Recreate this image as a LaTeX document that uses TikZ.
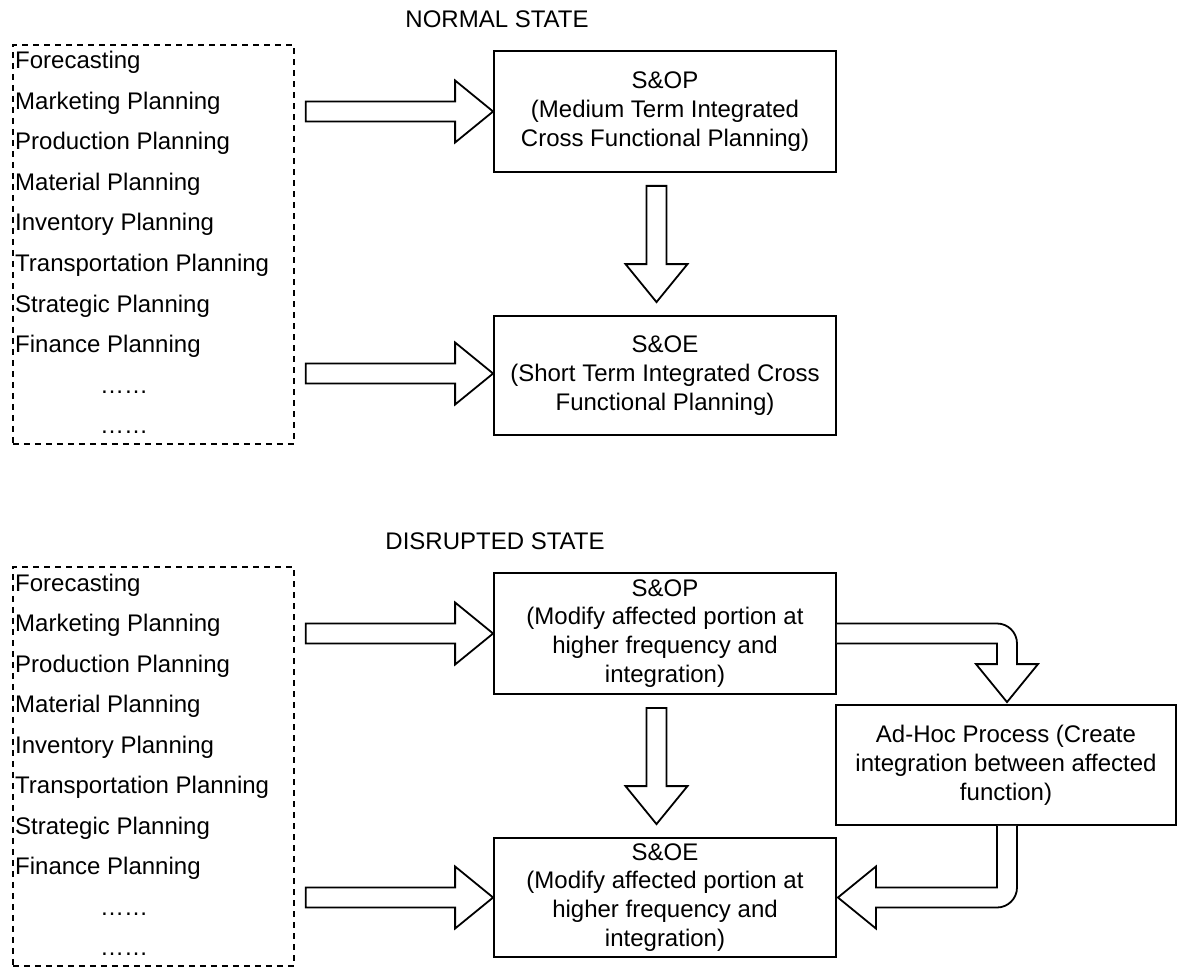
\documentclass[tikz,border=0pt]{standalone}
\usepackage{fontspec}
\setmainfont{Liberation Sans}
\usetikzlibrary{calc}
\tikzset{
  box/.style={draw=black, line width=1.8pt, fill=white, minimum width=342pt, minimum height=121pt, inner sep=0pt, align=center, font=\fontsize{24}{28.8}\selectfont},
  listbox/.style={draw=black, line width=1.8pt, dash pattern=on 6pt off 5pt, minimum width=281pt, minimum height=399pt, inner sep=0pt, anchor=north west},
  item/.style={anchor=base west, inner sep=0pt, font=\fontsize{24}{28.8}\selectfont},
  ttl/.style={inner sep=0pt, font=\fontsize{24}{28.8}\selectfont},
  arr/.style={draw=black, line width=1.8pt, fill=white, line join=miter}
}
\newcommand{\harr}[2]{\draw[arr] let \p1=(#1),\p2=(#2) in (\x1,\y2+10pt) -- (\x2-38pt,\y2+10pt) -- (\x2-38pt,\y2+31pt) -- (\x2,\y2) -- (\x2-38pt,\y2-31pt) -- (\x2-38pt,\y2-10pt) -- (\x1,\y2-10pt) -- cycle;}
\newcommand{\varr}[2]{\draw[arr] let \p1=(#1),\p2=(#2) in (\x2-10pt,\y1) -- (\x2-10pt,\y2+38pt) -- (\x2-31pt,\y2+38pt) -- (\x2,\y2) -- (\x2+31pt,\y2+38pt) -- (\x2+10pt,\y2+38pt) -- (\x2+10pt,\y1) -- cycle;}
\begin{document}
\begin{tikzpicture}[x=1pt,y=-1pt]
\useasboundingbox (0,0) rectangle (1177,968);
\fill[white] (0,0) rectangle (1177,968);

% ---------- NORMAL STATE ----------
\node[ttl] (t1) at (497,19.5) {NORMAL STATE};
\node[listbox] (list1) at (12,44) {};
\foreach \t [count=\i] in {Forecasting,Marketing Planning,Production Planning,Material Planning,Inventory Planning,Transportation Planning,Strategic Planning,Finance Planning}
  \node[item] (a\i) at (15,{69+40.5*(\i-1)}) {\t};
\node[item] (a9) at (100,393) {……};
\node[item] (a10) at (100,433.5) {……};

\node[box] (sop1) at (665,111.5) {S\&OP\\(Medium Term Integrated\\Cross Functional Planning)};
\node[box, minimum height=119pt] (soe1) at (665,375.5) {S\&OE\\(Short Term Integrated Cross\\Functional Planning)};

\harr{$(list1.north east)+(11,0)$}{sop1.west}
\harr{$(list1.north east)+(11,0)$}{$(soe1.west)+(0,-2)$}
\varr{$(sop1.south)+(0,13)$}{$(soe1.north)+(-8.5,-13)$}

% ---------- DISRUPTED STATE ----------
\node[ttl] (t2) at (495,541.5) {DISRUPTED STATE};
\node[listbox] (list2) at (12,566) {};
\foreach \t [count=\i] in {Forecasting,Marketing Planning,Production Planning,Material Planning,Inventory Planning,Transportation Planning,Strategic Planning,Finance Planning}
  \node[item] (b\i) at (15,{591+40.5*(\i-1)}) {\t};
\node[item] (b9) at (100,915) {……};
\node[item] (b10) at (100,955.5) {……};

\node[box] (sop2) at (665,633.5) {S\&OP\\(Modify affected portion at\\higher frequency and\\integration)};
\node[box, minimum height=119pt] (soe2) at (665,897.5) {S\&OE\\(Modify affected portion at\\higher frequency and\\integration)};
\node[box, minimum width=340pt, minimum height=120pt] (adhoc) at (1006,765) {Ad-Hoc Process (Create\\integration between affected\\function)};

\harr{$(list2.north east)+(11,0)$}{$(sop2.west)+(0,0)$}
\harr{$(list2.north east)+(11,0)$}{$(soe2.west)+(0,0)$}
\varr{$(sop2.south)+(0,13)$}{$(soe2.north)+(-8.5,-13)$}

\draw[arr] let \p1=(sop2.east), \p2=($(adhoc.north)+(1,-2)$) in
  (\x1,\y1+10pt) -- (\x2-10pt,\y1+10pt) arc[start angle=90,end angle=0,radius=20pt]
  -- (\x2+10pt,\y2+38pt) -- (\x2+31pt,\y2+38pt) -- (\x2,\y2) -- (\x2-31pt,\y2+38pt)
  -- (\x2-10pt,\y2+38pt) -- (\x2-10pt,\y1-10pt) -- (\x1,\y1-10pt);

\draw[arr] let \p1=($(adhoc.south)+(1,0)$), \p2=($(soe2.east)+(1,0)$) in
  (\x1+10pt,\y1) -- (\x1+10pt,\y2+10pt) arc[start angle=0,end angle=-90,radius=20pt]
  -- (\x2+38pt,\y2-10pt) -- (\x2+38pt,\y2-31pt) -- (\x2,\y2) -- (\x2+38pt,\y2+31pt)
  -- (\x2+38pt,\y2+10pt) -- (\x1-10pt,\y2+10pt) -- (\x1-10pt,\y1);
\end{tikzpicture}
\end{document}
